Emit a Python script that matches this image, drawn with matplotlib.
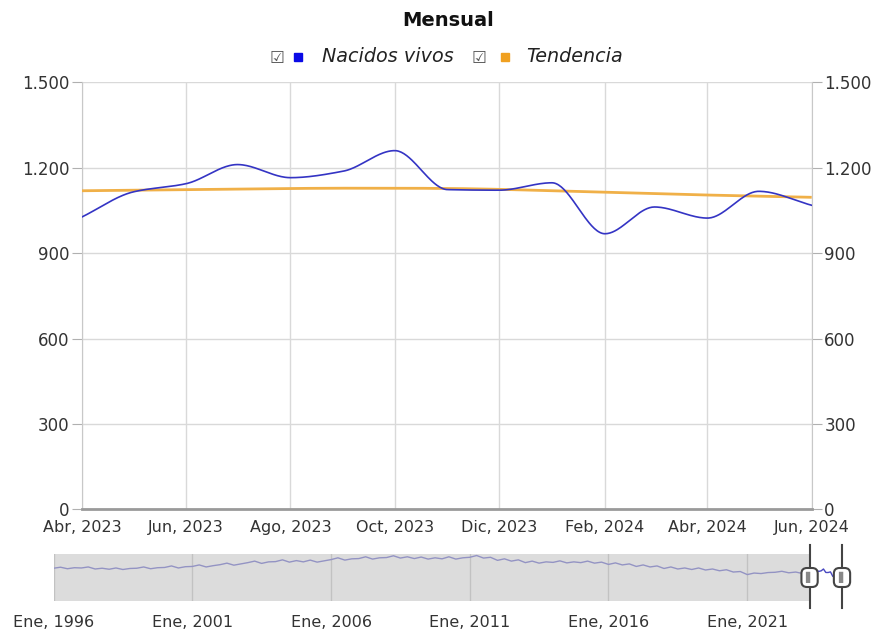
import numpy as np
import matplotlib
matplotlib.use('Agg')
import matplotlib.pyplot as plt
import matplotlib.dates as mdates
import matplotlib.transforms as mtrans
from matplotlib.patches import Rectangle
from datetime import date

# monthly values shown in the main panel (Abr 2023 - Jun 2024)
meses = ['2023-04', '2023-05', '2023-06', '2023-07', '2023-08', '2023-09', '2023-10',
         '2023-11', '2023-12', '2024-01', '2024-02', '2024-03', '2024-04', '2024-05', '2024-06']
nacidos = [1027, 1115, 1144, 1211, 1165, 1188, 1260, 1123, 1121, 1147, 968, 1062, 1023, 1117, 1068]
tendencia = [1119, 1121, 1123, 1125, 1127, 1128, 1128, 1127, 1124, 1119, 1114, 1109, 1104, 1100, 1096]

# navigator history, quarterly (1996 Q1 - 2023 Q1)
hist_inicio = '1996-01'
hist_trim = [1290, 1330, 1270, 1310, 1300, 1340, 1260, 1290, 1250, 1300, 1240, 1280,
             1290, 1340, 1270, 1310, 1320, 1380, 1300, 1350, 1360, 1420, 1340, 1390,
             1430, 1490, 1410, 1460, 1510, 1570, 1480, 1540, 1550, 1620, 1530, 1590,
             1540, 1610, 1530, 1580, 1630, 1700, 1610, 1660, 1670, 1740, 1650, 1700,
             1710, 1780, 1690, 1740, 1670, 1730, 1650, 1700, 1660, 1740, 1650, 1700,
             1720, 1790, 1690, 1720, 1600, 1660, 1570, 1620, 1510, 1570, 1490, 1540,
             1520, 1580, 1500, 1540, 1510, 1570, 1490, 1530, 1440, 1500, 1420, 1460,
             1360, 1420, 1340, 1380, 1280, 1340, 1260, 1300, 1240, 1300, 1220, 1260,
             1190, 1230, 1140, 1160, 1040, 1100, 1080, 1120, 1130, 1170, 1110, 1140,
             1080]

x_ticks = ['2023-04', '2023-06', '2023-08', '2023-10', '2023-12', '2024-02', '2024-04', '2024-06']
x_labels = ['Abr, 2023', 'Jun, 2023', 'Ago, 2023', 'Oct, 2023', 'Dic, 2023', 'Feb, 2024', 'Abr, 2024', 'Jun, 2024']
y_ticks = [0, 300, 600, 900, 1200, 1500]
nav_ticks = ['1996-01', '2001-01', '2006-01', '2011-01', '2016-01', '2021-01']
nav_labels = ['Ene, 1996', 'Ene, 2001', 'Ene, 2006', 'Ene, 2011', 'Ene, 2016', 'Ene, 2021']


def to_num(s):
    y, m = s.split('-')
    return mdates.date2num(date(int(y), int(m), 1))


def monotone(x, y, n=40):
    # monotone cubic (Fritsch-Carlson) so the line looks like the smooth spline
    x = np.asarray(x, float); y = np.asarray(y, float)
    h = np.diff(x); d = np.diff(y) / h
    m = np.zeros_like(y)
    m[0], m[-1] = d[0], d[-1]
    for k in range(1, len(x) - 1):
        if d[k - 1] * d[k] > 0:
            w1 = 2 * h[k] + h[k - 1]; w2 = h[k] + 2 * h[k - 1]
            m[k] = (w1 + w2) / (w1 / d[k - 1] + w2 / d[k])
    xs, ys = [], []
    for k in range(len(x) - 1):
        t = np.linspace(0, 1, n, endpoint=False)
        h00 = 2*t**3 - 3*t**2 + 1; h10 = t**3 - 2*t**2 + t
        h01 = -2*t**3 + 3*t**2; h11 = t**3 - t**2
        xs.append(x[k] + t * h[k])
        ys.append(h00*y[k] + h10*h[k]*m[k] + h01*y[k+1] + h11*h[k]*m[k+1])
    xs.append([x[-1]]); ys.append([y[-1]])
    return np.concatenate(xs), np.concatenate(ys)


def miles(v, pos=None):
    return f'{int(v):,}'.replace(',', '.')


plt.rcParams['font.family'] = ['DejaVu Sans']
W, H = 874, 635
fig = plt.figure(figsize=(W / 100, H / 100), dpi=100)

xm = [to_num(s) for s in meses]
azul = '#3434c4'
naranja = '#f0b048'
gris_txt = '#333333'

ax = fig.add_axes([82 / W, 1 - 509.3 / H, (811.7 - 82) / W, (509.3 - 82.3) / H])
sx, sy = monotone(xm, nacidos)
tx, ty = monotone(xm, tendencia)
ax.plot(tx, ty, color=naranja, lw=2, zorder=3, solid_capstyle='butt')
ax.plot(sx, sy, color=azul, lw=1.2, zorder=4)
ax.set_xlim(xm[0], xm[-1])
ax.set_ylim(0, 1500)
ax.set_xticks([to_num(s) for s in x_ticks])
ax.set_xticklabels(x_labels)
ax.set_yticks(y_ticks)
ax.yaxis.set_major_formatter(plt.FuncFormatter(miles))
ax.grid(True, color='#d9d9d9', lw=1)
ax.set_axisbelow(True)
ax.spines['top'].set_visible(False)
ax.spines['left'].set_color('#c8c8c8')
ax.spines['right'].set_color('#c8c8c8')
ax.spines['bottom'].set_color('#9a9a9a')
ax.spines['bottom'].set_linewidth(2)
ax.tick_params(axis='x', length=0, pad=8, labelsize=11.5, labelcolor=gris_txt)
ax.tick_params(axis='y', length=7, color='#b0b0b0', labelsize=12, labelcolor=gris_txt,
               left=True, right=True, labelleft=True, labelright=True, pad=2)

fig.text(448 / W, 1 - 20 / H, 'Mensual', ha='center', va='center', fontsize=14,
         fontweight='bold', color='#111111')

# legend
ly = 1 - 56 / H
fig.text(277 / W, 1 - 58 / H, '\u2611', ha='center', va='center', fontsize=12, color='#555555')
fig.patches.append(Rectangle((294 / W, 1 - 61 / H), 8 / W, 8 / H, color='#0a0ae6',
                             transform=fig.transFigure, figure=fig))
fig.text(322 / W, ly, 'Nacidos vivos', ha='left', va='center', fontsize=13.8,
         style='italic', color='#222222')
fig.text(479 / W, 1 - 58 / H, '\u2611', ha='center', va='center', fontsize=12, color='#555555')
fig.patches.append(Rectangle((501 / W, 1 - 61 / H), 8 / W, 8 / H, color='#f0a020',
                             transform=fig.transFigure, figure=fig))
fig.text(526 / W, ly, 'Tendencia', ha='left', va='center', fontsize=13.8,
         style='italic', color='#222222')

# navigator
nav = fig.add_axes([53.6 / W, 1 - 601 / H, (842 - 53.6) / W, (601 - 554) / H])
y0, m0 = map(int, hist_inicio.split('-'))
hx = [mdates.date2num(date(y0 + (m0 - 1 + 3 * i) // 12, (m0 - 1 + 3 * i) % 12 + 1, 1))
      for i in range(len(hist_trim))]
nav.plot(hx + xm, hist_trim + nacidos, color='#4848c0', lw=1.0, zorder=2)
nav.set_xlim(to_num('1996-01'), xm[-1])
nav.set_ylim(0, 1850)
nav.axvspan(to_num('1996-01'), xm[0], color='#c6c6c6', alpha=0.6, lw=0, zorder=3)
nav.set_xticks([to_num(s) for s in nav_ticks])
nav.set_xticklabels(nav_labels)
nav.set_yticks([])
nav.grid(True, axis='x', color='#bdbdbd', lw=1)
nav.set_axisbelow(True)
for s in nav.spines.values():
    s.set_visible(False)
nav.tick_params(axis='x', length=0, pad=10, labelsize=11.5, labelcolor=gris_txt)
trans = mtrans.blended_transform_factory(nav.transData, nav.transAxes)
for xh in [xm[0], xm[-1]]:
    nav.plot([xh, xh], [-0.15, 1.2], color='#444444', lw=1.5, transform=trans,
             clip_on=False, zorder=5)
    nav.text(xh, 0.5, '\u258c', transform=trans, ha='center', va='center', fontsize=8,
             color='#888888', zorder=6,
             bbox=dict(boxstyle='round,pad=0.35,rounding_size=0.5', fc='white',
                       ec='#444444', lw=1.5))

fig.savefig('out.png', dpi=100)
